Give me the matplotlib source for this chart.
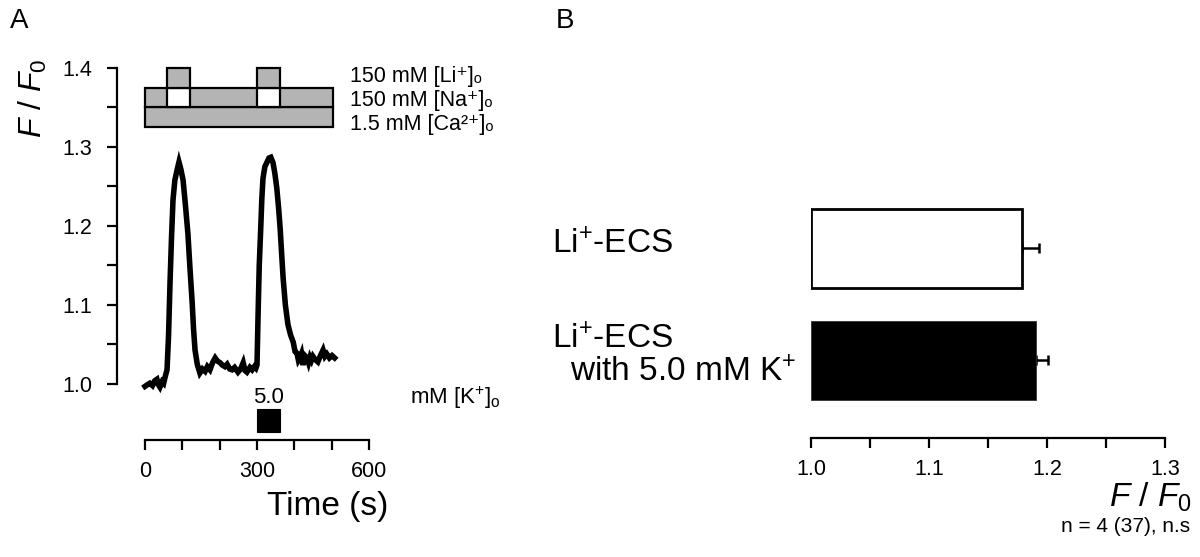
import matplotlib
matplotlib.use("Agg")
import matplotlib.pyplot as plt
from matplotlib.patches import Rectangle
from matplotlib.ticker import MultipleLocator, FixedLocator

plt.rcParams['font.family'] = ['Liberation Sans', 'DejaVu Sans']
plt.rcParams['mathtext.fontset'] = 'custom'
plt.rcParams['mathtext.rm'] = 'Liberation Sans'
plt.rcParams['mathtext.it'] = 'Liberation Sans:italic'
plt.rcParams['mathtext.bf'] = 'Liberation Sans:bold'

# ---------------- data ----------------
time_s = [0, 6, 13, 20, 26, 32, 36, 40, 46, 50, 54, 59, 63, 67, 71, 75, 80, 86, 91, 96,
          102, 108, 115, 120, 126, 130, 134, 140, 147, 154, 161, 167, 174, 181, 188, 194,
          201, 207, 214, 220, 227, 233, 240, 249, 256, 263, 268, 273, 281, 287, 293, 297,
          300, 303, 306, 310, 313, 316, 321, 327, 332, 337, 343, 348, 353, 358, 362, 366,
          370, 376, 383, 390, 397, 402, 407, 411, 415, 419, 423, 428, 434, 438, 442, 446,
          450, 456, 463, 470, 477, 482, 487, 494, 501, 508]
ratio = [0.997, 0.999, 1.001, 0.998, 1.004, 1.006, 0.999, 0.996, 1.003, 1.001, 1.009, 1.018,
         1.060, 1.128, 1.185, 1.233, 1.258, 1.271, 1.281, 1.272, 1.258, 1.228, 1.190, 1.150,
         1.106, 1.070, 1.043, 1.025, 1.014, 1.019, 1.016, 1.022, 1.018, 1.027, 1.033, 1.029,
         1.027, 1.024, 1.022, 1.025, 1.019, 1.018, 1.021, 1.015, 1.019, 1.027, 1.017, 1.015,
         1.021, 1.018, 1.022, 1.020, 1.024, 1.090, 1.150, 1.197, 1.235, 1.260, 1.275, 1.281,
         1.286, 1.287, 1.280, 1.266, 1.248, 1.222, 1.197, 1.165, 1.134, 1.100, 1.075, 1.062,
         1.053, 1.041, 1.039, 1.030, 1.033, 1.038, 1.024, 1.036, 1.033, 1.027, 1.034, 1.030,
         1.035, 1.031, 1.028, 1.036, 1.043, 1.035, 1.038, 1.033, 1.036, 1.033]

li_periods = [(60, 120), (300, 362)]   # Li+ application windows (s)
solution_end = 503
k_period = (300, 362)
k_conc_label = "5.0"
solution_labels = ["150 mM [Li\u207a]\u2092", "150 mM [Na\u207a]\u2092", "1.5 mM [Ca\u00b2\u207a]\u2092"]

yticksA = [1.0, 1.1, 1.2, 1.3, 1.4]
yminorA = [1.05, 1.15, 1.25, 1.35]
xticksA = [0, 300, 600]
xminorA = [100, 200, 400, 500]

categories = ["Li$^{+}$-ECS", "Li$^{+}$-ECS", "with 5.0 mM K$^{+}$"]
bar_means = [1.179, 1.191]
bar_errs = [0.014, 0.010]
bar_colors = ["white", "black"]
xticksB = [1.0, 1.1, 1.2, 1.3]

GREY = "#b4b4b4"
LW = 1.6
TICKFS = 15.5

fig = plt.figure(figsize=(12, 5.57), dpi=100)

# ---------------- Panel A ----------------
axA = fig.add_axes([117/1200, 1-440/557, (369-117)/1200, (440-68)/557])
axA.set_xlim(-75, 600)
axA.set_ylim(1.0 - 56/790, 1.4)
axA.plot(time_s, ratio, color='black', lw=4.0, solid_joinstyle='miter')

for s in ['top', 'right']:
    axA.spines[s].set_visible(False)
axA.spines['left'].set_bounds(1.0, 1.4)
axA.spines['bottom'].set_bounds(0, 600)
for s in ['left', 'bottom']:
    axA.spines[s].set_linewidth(LW)
axA.set_yticks(yticksA)
axA.set_yticklabels([f"{v:.1f}" for v in yticksA])
axA.yaxis.set_minor_locator(FixedLocator(yminorA))
axA.set_xticks(xticksA)
axA.set_xticklabels([str(v) for v in xticksA])
axA.xaxis.set_minor_locator(FixedLocator(xminorA))
axA.tick_params(axis='both', which='both', direction='out', width=LW, length=7)
axA.tick_params(axis='y', labelsize=TICKFS, pad=11)
axA.tick_params(axis='x', labelsize=TICKFS, pad=8)

# stimulus bars
def box(ax, x0, x1, y0, y1, fc):
    ax.add_patch(Rectangle((x0, y0), x1 - x0, y1 - y0, facecolor=fc, edgecolor='black',
                           lw=LW, clip_on=False, zorder=3))

box(axA, 0, solution_end, 1.325, 1.35, GREY)
box(axA, 0, solution_end, 1.35, 1.375, GREY)
for (a, b) in li_periods:
    box(axA, a, b, 1.35, 1.375, 'white')
    box(axA, a, b, 1.375, 1.40, GREY)

for lab, yy in zip(solution_labels, [1.389, 1.359, 1.328]):
    axA.text(549, yy, lab, fontsize=15.5, va='center', ha='left', clip_on=False)

axA.add_patch(Rectangle((k_period[0], 0.939), k_period[1] - k_period[0], 0.029,
                        facecolor='black', edgecolor='black', lw=0.8, clip_on=False))
axA.text(sum(k_period)/2, 0.9825, k_conc_label, fontsize=16, ha='center', va='center')
axA.text(710, 0.9825, "mM [K$^{+}$]$_{\\rm o}$", fontsize=16, ha='left', va='center', clip_on=False)

fig.text(328/1200, 1-507/557, "Time (s)", fontsize=24, ha='center', va='center')
fig.text(33/1200, 1-98/557, r"$\mathit{F\ /\ F_0}$", fontsize=23, ha='center', va='center',
         rotation=90)
fig.text(10/1200, 1-21/557, "A", fontsize=20, ha='left', va='center')
fig.text(556/1200, 1-21/557, "B", fontsize=20, ha='left', va='center')

# ---------------- Panel B ----------------
axB = fig.add_axes([811/1200, 1-438/557, (1165-811)/1200, (438-180)/557])
axB.set_xlim(1.0, 1.3)
axB.set_ylim(-0.692, 1.61)
ypos = [1, 0]
widths = [m - 1.0 for m in bar_means]
axB.barh(ypos, widths, left=1.0, height=0.71, color=bar_colors,
         edgecolor=['black', '#333333'], linewidth=[2.0, 0.6], zorder=2)
axB.errorbar(bar_means, ypos, xerr=[[0, 0], bar_errs], fmt='none', ecolor='black',
             elinewidth=1.8, capsize=3.5, capthick=1.8, zorder=1)
for s in ['top', 'right', 'left']:
    axB.spines[s].set_visible(False)
axB.spines['bottom'].set_linewidth(LW)
axB.set_yticks([])
axB.set_xticks(xticksB)
axB.set_xticklabels([f"{v:.1f}" for v in xticksB])
axB.xaxis.set_minor_locator(MultipleLocator(0.05))
axB.tick_params(axis='x', which='both', direction='out', width=LW, length=7,
                labelsize=TICKFS, pad=8)

fig.text(552/1200, 1-245/557, categories[0], fontsize=24, ha='left', va='center')
fig.text(552/1200, 1-340/557, categories[1], fontsize=24, ha='left', va='center')
fig.text(570/1200, 1-373/557, categories[2], fontsize=24, ha='left', va='center')

fig.text(1192/1200, 1-497/557, r"$\mathit{F\ /\ F_0}$", fontsize=24, ha='right', va='center')
fig.text(1190/1200, 1-527/557, "n = 4 (37), n.s", fontsize=15, ha='right', va='center')

fig.savefig("out.png", dpi=100)
